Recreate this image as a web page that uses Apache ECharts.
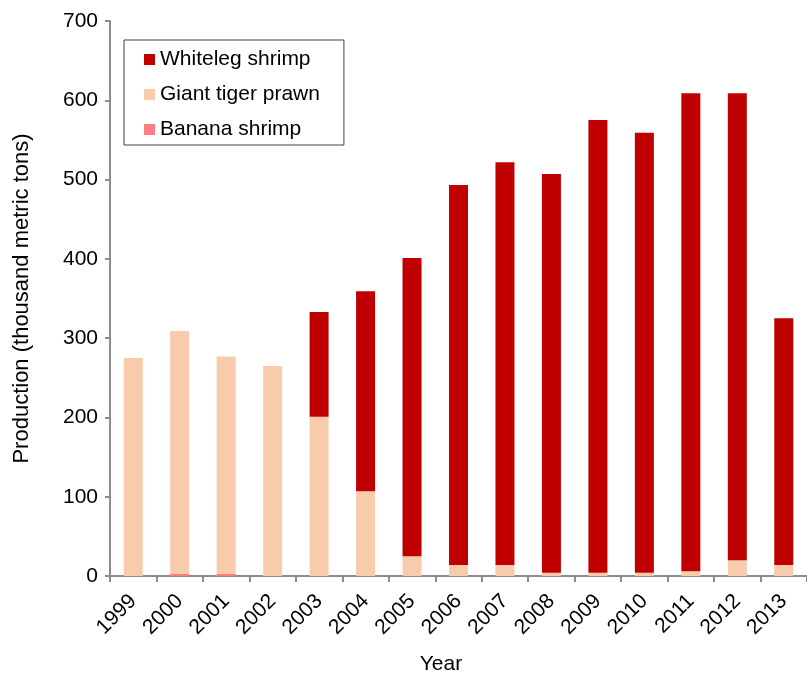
<!DOCTYPE html>
<html>
<head>
<meta charset="utf-8">
<script src="https://cdn.jsdelivr.net/npm/echarts@6/dist/echarts.min.js"></script>
<style>
  html, body { margin: 0; padding: 0; background: #fff; }
  #chart { width: 807px; height: 676px; }
</style>
</head>
<body>
<div id="chart"></div>
<script>
var years = ['1999', '2000', '2001', '2002', '2003', '2004', '2005', '2006',
             '2007', '2008', '2009', '2010', '2011', '2012', '2013'];
// thousand metric tons
var banana = [0, 3, 3, 0, 0, 0, 0, 0, 0, 0, 0, 0, 0, 0, 0];
var tiger = [275, 306, 274, 265, 201, 107, 25, 14, 14, 4, 4, 4, 6, 20, 14];
var whiteleg = [0, 0, 0, 0, 132, 252, 376, 479, 508, 503, 571, 555, 603, 589, 311];
var yTicks = { min: 0, max: 700, interval: 100 };

var chart = echarts.init(document.getElementById('chart'));
var font = 'Liberation Sans, Arial, sans-serif';

function barSeries(name, data, color) {
    return {
        name: name,
        type: 'bar',
        stack: 'total',
        barWidth: 19,
        data: data,
        itemStyle: { color: color },
        emphasis: { disabled: true }
    };
}

var option = {
    animation: false,
    textStyle: { fontFamily: font },
    grid: { left: 110, right: 0, top: 21, bottom: 100, containLabel: false, outerBoundsMode: 'none' },
    legend: {
        data: ['Whiteleg shrimp', 'Giant tiger prawn', 'Banana shrimp'],
        orient: 'vertical',
        left: 124,
        top: 40,
        padding: [9, 24, 5, 20],
        itemGap: 14,
        itemWidth: 11,
        itemHeight: 11,
        icon: 'rect',
        borderColor: '#404040',
        borderWidth: 1,
        textStyle: { fontSize: 21, color: '#000', fontFamily: font }
    },
    xAxis: {
        type: 'category',
        data: years,
        axisLine: { lineStyle: { color: '#8c8c8c', width: 2 } },
        axisTick: { show: true, length: 6, lineStyle: { color: '#8c8c8c', width: 2 } },
        axisLabel: { rotate: 45, fontSize: 21, color: '#000', margin: 22, fontFamily: font }
    },
    yAxis: {
        type: 'value',
        min: yTicks.min,
        max: yTicks.max,
        interval: yTicks.interval,
        name: 'Production (thousand metric tons)',
        nameLocation: 'middle',
        nameGap: 77,
        nameTextStyle: { fontSize: 22, color: '#000', fontFamily: font },
        splitLine: { show: false },
        axisLine: { show: true, lineStyle: { color: '#8c8c8c', width: 2 } },
        axisTick: { show: true, length: 5, lineStyle: { color: '#8c8c8c', width: 2 } },
        axisLabel: { fontSize: 21, color: '#000', margin: 12, fontFamily: font }
    },
    graphic: [{
        type: 'text',
        x: 441,
        y: 664,
        style: {
            text: 'Year', fill: '#000', font: '21px ' + font,
            textAlign: 'center', textVerticalAlign: 'middle'
        }
    }],
    series: [
        barSeries('Banana shrimp', banana, '#ff7c80'),
        barSeries('Giant tiger prawn', tiger, '#f8cbad'),
        barSeries('Whiteleg shrimp', whiteleg, '#c00000')
    ]
};

chart.setOption(option);
window.onresize = function () { chart.resize(); };
</script>
</body>
</html>
